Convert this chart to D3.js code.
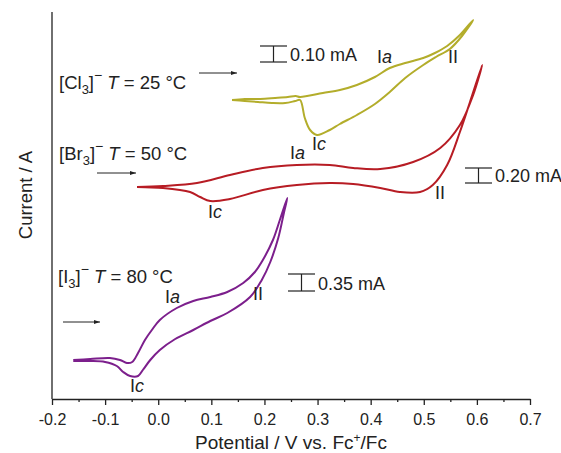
<!DOCTYPE html>
<html>
<head>
<meta charset="utf-8">
<script src="https://cdn.jsdelivr.net/npm/d3@7"></script>
<style>
  body { margin: 0; background: #fff; }
  svg text { font-family: "Liberation Sans", Arial, sans-serif; fill: #222; }
</style>
</head>
<body>
<svg id="chart"></svg>
<script>
const width = 561, height = 453;

// potential (V vs Fc+/Fc) and current (arbitrary, offset per trace)
const clPotential = [0.139, 0.163, 0.192, 0.220, 0.244, 0.259, 0.267, 0.310, 0.342, 0.374, 0.408, 0.436, 0.465, 0.499, 0.521, 0.544, 0.568, 0.593,
  0.572, 0.549, 0.523, 0.499, 0.465, 0.436, 0.408, 0.374, 0.342, 0.323, 0.299, 0.286, 0.276, 0.267, 0.258, 0.239, 0.214, 0.188, 0.163, 0.139];
const clCurrent = [299, 300, 300, 301, 302, 303, 302, 306, 309, 314, 322, 331, 336, 341, 346, 353, 364, 379,
  363, 350, 342, 334, 321, 307, 295, 284, 275, 269, 264, 269, 281, 299, 298, 296, 296, 297, 298, 299];

const brPotential = [-0.040, 0.009, 0.073, 0.135, 0.197, 0.261, 0.323, 0.367, 0.418, 0.480, 0.531, 0.568, 0.593, 0.610,
  0.587, 0.568, 0.544, 0.517, 0.493, 0.455, 0.418, 0.367, 0.323, 0.261, 0.197, 0.135, 0.098, 0.079, 0.060, 0.009, -0.040];
const brCurrent = [212, 213, 216, 224, 231, 234, 234, 231, 230, 237, 251, 274, 304, 334,
  297, 267, 234, 214, 207, 207, 211, 215, 216, 214, 209, 200, 198, 202, 207, 211, 212];

const iPotential = [-0.160, -0.128, -0.091, -0.072, -0.059, -0.049, -0.038, -0.025, -0.012, 0.003, 0.035, 0.066, 0.098, 0.130, 0.160, 0.182, 0.197, 0.216, 0.229, 0.243,
  0.237, 0.226, 0.211, 0.195, 0.173, 0.130, 0.098, 0.066, 0.032, 0.003, -0.015, -0.029, -0.038, -0.053, -0.066, -0.078, -0.100, -0.128, -0.160];
const iCurrent = [39, 40, 41, 39, 36, 37, 46, 59, 69, 79, 91, 98, 102, 107, 116, 127, 139, 159, 179, 201,
  187, 161, 137, 119, 102, 86, 78, 69, 60, 49, 39, 29, 23, 23, 27, 33, 37, 38, 38];

const xTicks = [-0.2, -0.1, 0.0, 0.1, 0.2, 0.3, 0.4, 0.5, 0.6, 0.7];
const xMinorTicks = [-0.15, -0.05, 0.05, 0.15, 0.25, 0.35, 0.45, 0.55, 0.65];

const svg = d3.select("#chart").attr("width", width).attr("height", height);

const x = d3.scaleLinear().domain([-0.2, 0.7]).range([52, 530]);
const y = d3.scaleLinear().domain([0, 387]).range([399, 12]);

const line = d3.line()
  .x(d => x(d[0]))
  .y(d => y(d[1]))
  .curve(d3.curveCatmullRom.alpha(0.5));

const traces = [
  {pot: clPotential, cur: clCurrent, color: "#b3ad2b"},
  {pot: brPotential, cur: brCurrent, color: "#b71c24"},
  {pot: iPotential, cur: iCurrent, color: "#7c1f8c"}
];

traces.forEach(function(t) {
  svg.append("path")
    .datum(d3.zip(t.pot, t.cur))
    .attr("d", line)
    .attr("fill", "none")
    .attr("stroke", t.color)
    .attr("stroke-width", 2)
    .attr("stroke-linejoin", "round");
});

// axes
const fmt = d => d3.format(".1f")(d).replace("\u2212", "-");
const xAxis = svg.append("g")
  .attr("transform", `translate(0, ${y(0)})`)
  .call(d3.axisBottom(x).tickValues(xTicks).tickFormat(fmt).tickSize(6).tickSizeOuter(0));
xAxis.select(".domain").attr("stroke", "#222").attr("stroke-width", 1.3);
xAxis.selectAll(".tick line").attr("stroke", "#222").attr("stroke-width", 1.3);
xAxis.selectAll(".tick text")
  .attr("font-size", "16px")
  .attr("font-family", "Liberation Sans, Arial, sans-serif")
  .attr("fill", "#222")
  .attr("dy", "1.06em");

svg.append("g")
  .attr("transform", `translate(0, ${y(0)})`)
  .call(d3.axisBottom(x).tickValues(xMinorTicks).tickFormat("").tickSize(3).tickSizeOuter(0))
  .call(g => g.select(".domain").remove())
  .selectAll(".tick line").attr("stroke", "#222").attr("stroke-width", 1.3);

svg.append("line")
  .attr("x1", x(-0.2)).attr("x2", x(-0.2))
  .attr("y1", y(387)).attr("y2", y(0))
  .attr("stroke", "#222").attr("stroke-width", 1.3);

// axis titles
const xt = svg.append("text")
  .attr("x", 291).attr("y", 449)
  .attr("text-anchor", "middle")
  .attr("font-size", "19px");
xt.append("tspan").text("Potential / V vs. Fc");
xt.append("tspan").text("+").attr("font-size", "12px").attr("dy", -7);
xt.append("tspan").text("/Fc").attr("dy", 7);

svg.append("text")
  .attr("transform", "translate(32, 195) rotate(-90)")
  .attr("text-anchor", "middle")
  .attr("font-size", "18.5px")
  .text("Current / A");

// species labels
function species(sym, temp, px, py) {
  const t = svg.append("text").attr("x", px).attr("y", py).attr("font-size", "18.5px");
  t.append("tspan").text("[" + sym);
  t.append("tspan").text("3").attr("font-size", "13px").attr("dy", 5);
  t.append("tspan").text("]").attr("dy", -5);
  t.append("tspan").text("\u2212").attr("font-size", "14px").attr("dy", -9);
  t.append("tspan").text(" ").attr("dy", 9);
  t.append("tspan").text("T").attr("font-style", "italic");
  t.append("tspan").text(" = " + temp + " \u00B0C");
}
species("Cl", "25", 59, 89);
species("Br", "50", 59, 160);
species("I", "80", 58, 283);

// arrows
svg.append("defs").append("marker")
  .attr("id", "head")
  .attr("viewBox", "0 0 10 10")
  .attr("refX", 10).attr("refY", 5)
  .attr("markerWidth", 10).attr("markerHeight", 6)
  .attr("orient", "auto")
  .append("path").attr("d", "M0,1.5L10,5L0,8.5Z").attr("fill", "#222");

[[199, 237, 73], [97, 136, 173], [63, 100, 322]].forEach(function(a) {
  svg.append("line")
    .attr("x1", a[0]).attr("x2", a[1]).attr("y1", a[2]).attr("y2", a[2])
    .attr("stroke", "#222").attr("stroke-width", 1)
    .attr("marker-end", "url(#head)");
});

// scale bars
[[260, 287, 46, 62, "0.10 mA"], [465, 492, 168, 183, "0.20 mA"], [288, 315, 274, 291, "0.35 mA"]].forEach(function(b) {
  const g = svg.append("g").attr("stroke", "#222").attr("stroke-width", 1.2);
  const mid = (b[0] + b[1]) / 2;
  g.append("line").attr("x1", b[0]).attr("x2", b[1]).attr("y1", b[2]).attr("y2", b[2]);
  g.append("line").attr("x1", b[0]).attr("x2", b[1]).attr("y1", b[3]).attr("y2", b[3]);
  g.append("line").attr("x1", mid).attr("x2", mid).attr("y1", b[2]).attr("y2", b[3]);
  svg.append("text").attr("x", b[1] + 3).attr("y", b[3] - 1).attr("font-size", "18px").text(b[4]);
});

// peak labels
const peaks = [
  ["I", "a", 377, 63], ["II", "", 448, 63], ["I", "c", 312, 150],
  ["I", "a", 290, 159], ["II", "", 435, 199], ["I", "c", 208, 218],
  ["I", "a", 165, 303], ["II", "", 253, 300], ["I", "c", 130, 392]
];
peaks.forEach(function(p) {
  const t = svg.append("text").attr("x", p[2]).attr("y", p[3]).attr("font-size", "18px");
  t.append("tspan").text(p[0]);
  if (p[1]) t.append("tspan").text(p[1]).attr("font-style", "italic");
});
</script>
</body>
</html>
